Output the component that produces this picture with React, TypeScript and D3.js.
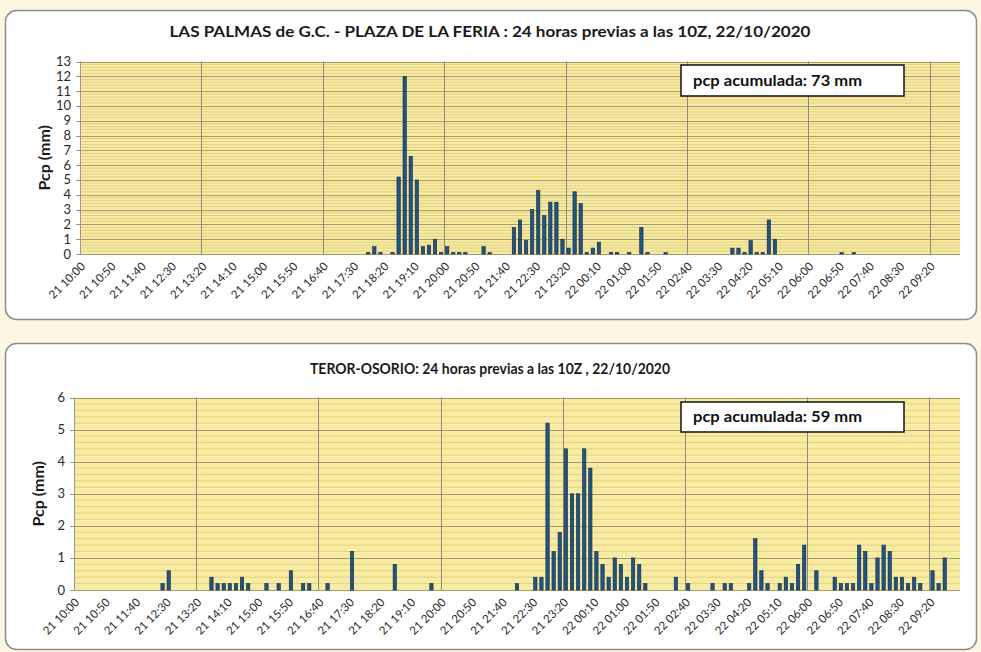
import React from "react";
import * as d3 from "d3";

// 10-minute slots from 21 10:00 to 22 10:00 (145 categories)
const tickLabels = [
  "21 10:00", "21 10:50", "21 11:40", "21 12:30", "21 13:20", "21 14:10",
  "21 15:00", "21 15:50", "21 16:40", "21 17:30", "21 18:20", "21 19:10",
  "21 20:00", "21 20:50", "21 21:40", "21 22:30", "21 23:20", "22 00:10",
  "22 01:00", "22 01:50", "22 02:40", "22 03:30", "22 04:20", "22 05:10",
  "22 06:00", "22 06:50", "22 07:40", "22 08:30", "22 09:20"
];
const labelEvery = 5;
const gridEvery = 20;

// LAS PALMAS de G.C. - PLAZA DE LA FERIA, mm per 10 min
const palmasPcp = [
  0, 0, 0, 0, 0, 0, 0, 0, 0, 0,
  0, 0, 0, 0, 0, 0, 0, 0, 0, 0,
  0, 0, 0, 0, 0, 0, 0, 0, 0, 0,
  0, 0, 0, 0, 0, 0, 0, 0, 0, 0,
  0, 0, 0, 0, 0, 0, 0, 0.1, 0.5, 0.1,
  0, 0.1, 5.2, 12.0, 6.6, 5.0, 0.5, 0.6, 1.0, 0.1,
  0.5, 0.1, 0.1, 0.1, 0, 0, 0.5, 0.1, 0, 0,
  0, 1.8, 2.3, 0.9, 3.0, 4.3, 2.6, 3.5, 3.5, 1.0,
  0.4, 4.2, 3.4, 0.1, 0.4, 0.8, 0, 0.1, 0.1, 0,
  0.1, 0, 1.8, 0.1, 0, 0, 0.1, 0, 0, 0,
  0, 0, 0, 0, 0, 0, 0, 0.4, 0.4, 0.1,
  0.9, 0.1, 0.1, 2.3, 1.0, 0, 0, 0, 0, 0,
  0, 0, 0, 0, 0, 0.1, 0, 0.1, 0, 0,
  0, 0, 0, 0, 0, 0, 0, 0, 0, 0,
  0, 0, 0, 0, 0
];

// TEROR-OSORIO, mm per 10 min
const terorPcp = [
  0, 0, 0, 0, 0, 0, 0, 0, 0, 0,
  0, 0, 0, 0, 0.2, 0.6, 0, 0, 0, 0,
  0, 0, 0.4, 0.2, 0.2, 0.2, 0.2, 0.4, 0.2, 0,
  0, 0.2, 0, 0.2, 0, 0.6, 0, 0.2, 0.2, 0,
  0, 0.2, 0, 0, 0, 1.2, 0, 0, 0, 0,
  0, 0, 0.8, 0, 0, 0, 0, 0, 0.2, 0,
  0, 0, 0, 0, 0, 0, 0, 0, 0, 0,
  0, 0, 0.2, 0, 0, 0.4, 0.4, 5.2, 1.2, 1.8,
  4.4, 3.0, 3.0, 4.4, 3.8, 1.2, 0.8, 0.4, 1.0, 0.8,
  0.4, 1.0, 0.8, 0.2, 0, 0, 0, 0, 0.4, 0,
  0.2, 0, 0, 0, 0.2, 0, 0.2, 0.2, 0, 0,
  0.2, 1.6, 0.6, 0.2, 0, 0.2, 0.4, 0.2, 0.8, 1.4,
  0, 0.6, 0, 0, 0.4, 0.2, 0.2, 0.2, 1.4, 1.2,
  0.2, 1.0, 1.4, 1.2, 0.4, 0.4, 0.2, 0.4, 0.2, 0,
  0.6, 0.2, 1.0, 0, 0
];

const titles = [
  "LAS PALMAS de G.C. - PLAZA DE LA FERIA : 24 horas previas a las 10Z, 22/10/2020",
  "TEROR-OSORIO: 24 horas previas a las 10Z , 22/10/2020"
];
const totals = [73, 59];

const font = "Lato, 'Open Sans', sans-serif";

function Panel({ frame, plot, yMax, values, title, titleY, titleLen, total, note }) {
  const x = d3
    .scaleBand()
    .domain(d3.range(values.length))
    .range([plot.left, plot.right])
    .paddingInner(0.45)
    .paddingOuter(0.225);
  const y = d3.scaleLinear().domain([0, yMax]).range([plot.bottom, plot.top]);
  const step = x.step();
  const edge = i => x(i) - step * 0.225;

  const majors = y.ticks(yMax);
  const minors = d3
    .range(0, yMax * 5)
    .filter(k => k % 5 !== 0)
    .map(k => k / 5);
  const vlines = d3.range(gridEvery, values.length, gridEvery);

  return (
    <g>
      <rect
        x={frame.x}
        y={frame.y}
        width={frame.w}
        height={frame.h}
        rx={11}
        fill="#ffffff"
        stroke="#8d8d8d"
        strokeWidth={1.5}
      />
      <text
        x={490}
        y={titleY}
        textAnchor="middle"
        fontFamily={font}
        fontWeight="bold"
        fontSize={15}
        fill="#1a1a1a"
        textLength={titleLen}
        lengthAdjust="spacingAndGlyphs"
      >
        {title}
      </text>

      {/* plot area */}
      <rect
        x={plot.left}
        y={plot.top}
        width={plot.right - plot.left}
        height={plot.bottom - plot.top}
        fill="#f8eca3"
      />
      {minors.map(v => (
        <line
          key={"mi" + v}
          x1={plot.left}
          x2={plot.right}
          y1={y(v)}
          y2={y(v)}
          stroke="#e0cf86"
          strokeWidth={1}
        />
      ))}
      {majors.map(v => (
        <line
          key={"ma" + v}
          x1={plot.left - 4}
          x2={plot.right}
          y1={Math.round(y(v)) + 0.5}
          y2={Math.round(y(v)) + 0.5}
          stroke="#a39b74"
          strokeWidth={1}
        />
      ))}
      {vlines.map(i => (
        <line
          key={"v" + i}
          x1={Math.round(edge(i)) + 0.5}
          x2={Math.round(edge(i)) + 0.5}
          y1={plot.top}
          y2={plot.bottom}
          stroke="#8e8a78"
          strokeWidth={1}
        />
      ))}
      <line
        x1={plot.left + 0.5}
        x2={plot.left + 0.5}
        y1={plot.top}
        y2={plot.bottom}
        stroke="#9a9a9a"
      />

      {values.map((v, i) =>
        v > 0 ? (
          <rect
            key={"b" + i}
            x={x(i)}
            y={y(v)}
            width={x.bandwidth()}
            height={plot.bottom - y(v)}
            fill="#1f5485"
            stroke="#17293a"
            strokeWidth={0.6}
          />
        ) : null
      )}

      {/* y axis */}
      {majors.map(v => (
        <text
          key={"yl" + v}
          x={plot.left - 9}
          y={y(v) + 4.5}
          textAnchor="end"
          fontFamily={font}
          fontSize={13}
          fill="#2a2a2a"
        >
          {v}
        </text>
      ))}
      <text
        transform={`translate(${plot.left - 30}, ${(plot.top + plot.bottom) / 2}) rotate(-90)`}
        textAnchor="middle"
        fontFamily={font}
        fontWeight="bold"
        fontSize={16}
        fill="#1a1a1a"
      >
        Pcp (mm)
      </text>

      {/* x axis labels */}
      {tickLabels.map((t, k) => {
        const i = k * labelEvery;
        const cx = x(i) + x.bandwidth() / 2;
        return (
          <text
            key={"xl" + k}
            transform={`translate(${cx + 3}, ${plot.bottom + 13}) rotate(-45)`}
            textAnchor="end"
            fontFamily={font}
            fontSize={11.5}
            fill="#2a2a2a"
          >
            {t}
          </text>
        );
      })}

      {/* accumulated note */}
      <rect
        x={note.x}
        y={note.y}
        width={note.w}
        height={note.h}
        fill="#ffffff"
        stroke="#111"
        strokeWidth={1.5}
      />
      <text
        x={note.x + 12}
        y={note.y + note.h / 2 + 5}
        fontFamily={font}
        fontWeight="bold"
        fontSize={15}
        fill="#111"
        textLength={169}
        lengthAdjust="spacingAndGlyphs"
      >
        {`pcp acumulada: ${total} mm`}
      </text>
    </g>
  );
}

export default function App() {
  return (
    <svg
      width={981}
      height={652}
      style={{ position: "absolute", left: 0, top: 0, display: "block" }}
    >
      <rect x={0} y={0} width={981} height={652} fill="#fcf6e3" />
      <Panel
        frame={{ x: 5.5, y: 10.5, w: 971, h: 309 }}
        plot={{ left: 80, right: 960, top: 61.5, bottom: 254 }}
        yMax={13}
        values={palmasPcp}
        title={titles[0]}
        titleY={37}
        titleLen={641}
        total={totals[0]}
        note={{ x: 681, y: 65, w: 223, h: 31 }}
      />
      <Panel
        frame={{ x: 5.5, y: 343.5, w: 971, h: 306 }}
        plot={{ left: 74, right: 960, top: 397.5, bottom: 590 }}
        yMax={6}
        values={terorPcp}
        title={titles[1]}
        titleY={374}
        titleLen={360}
        total={totals[1]}
        note={{ x: 681, y: 402, w: 223, h: 30 }}
      />
    </svg>
  );
}
